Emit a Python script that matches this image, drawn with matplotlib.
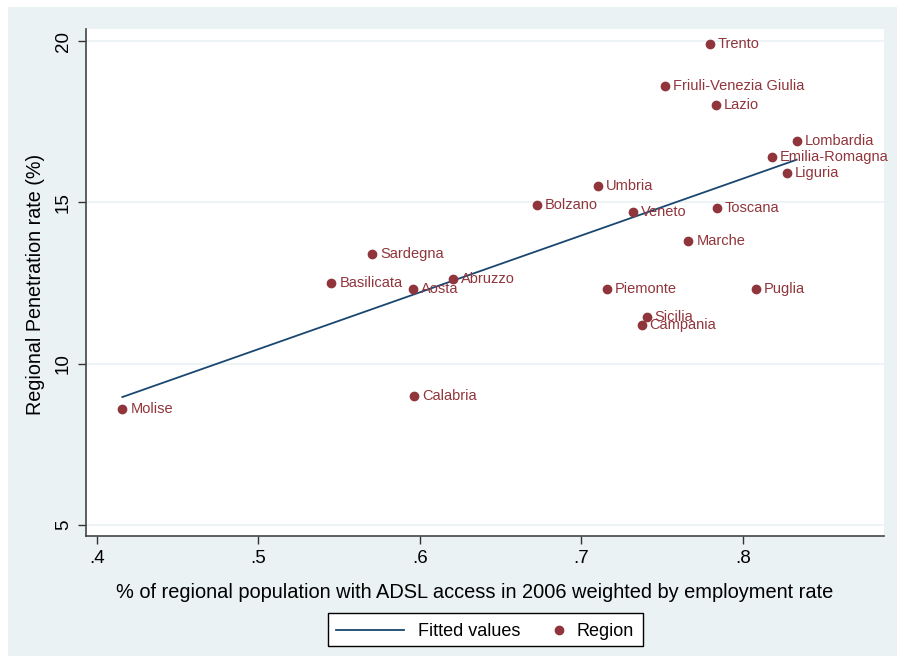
import matplotlib
matplotlib.use("Agg")
import matplotlib.pyplot as plt
import numpy as np
from matplotlib.patches import Rectangle
from matplotlib.lines import Line2D

plt.rcParams['font.family'] = ['Liberation Sans', 'DejaVu Sans']

regions = ["Trento", "Friuli-Venezia Giulia", "Lazio", "Lombardia", "Emilia-Romagna",
           "Liguria", "Umbria", "Veneto", "Toscana", "Bolzano", "Sardegna", "Basilicata",
           "Aosta", "Abruzzo", "Calabria", "Marche", "Piemonte", "Puglia", "Sicilia",
           "Campania", "Molise"]
adsl = [0.7796, 0.7517, 0.7831, 0.8332, 0.8180, 0.8271, 0.7104, 0.7321, 0.7837, 0.6724,
        0.5703, 0.5451, 0.5959, 0.6204, 0.5963, 0.7661, 0.7156, 0.8079, 0.7404, 0.7372,
        0.4157]
penetration = [19.91, 18.61, 18.01, 16.91, 16.41, 15.90, 15.52, 14.71, 14.82, 14.91,
               13.41, 12.51, 12.31, 12.62, 9.01, 13.81, 12.31, 12.31, 11.44, 11.21, 8.61]

xticks = [0.4, 0.5, 0.6, 0.7, 0.8]
xticklabels = [".4", ".5", ".6", ".7", ".8"]
yticks = [5, 10, 15, 20]
legend_labels = ["Fitted values", "Region"]

BG = "#EAF2F3"
NAVY = "#1a476f"
MAROON = "#90353b"

W, H = 897, 656
fig = plt.figure(figsize=(W / 100, H / 100), dpi=100, facecolor="white")
fig.patches.append(Rectangle((8 / W, 0), 1, 1 - 7 / H, transform=fig.transFigure,
                             facecolor=BG, edgecolor="none", zorder=-10))

ax = fig.add_axes([86 / W, 1 - 536 / H, (884 - 86) / W, (536 - 29) / H])
ax.set_facecolor("white")
ax.set_xlim(0.3932, 0.8873)
ax.set_ylim(4.659, 20.372)

x = np.array(adsl)
y = np.array(penetration)
b, a = np.polyfit(x, y, 1)
xs = np.array([x.min(), x.max()])
ax.plot(xs, a + b * xs, color=NAVY, lw=1.3, zorder=2)
ax.plot(x, y, 'o', color=MAROON, ms=6, mec=MAROON, zorder=3)
for name, xi, yi in zip(regions, adsl, penetration):
    ax.annotate(name, (xi, yi), xytext=(8, 0), textcoords="offset pixels",
                va="center", ha="left", fontsize=10.5, color=MAROON, zorder=4)

ax.set_yticks(yticks)
ax.set_yticklabels([str(t) for t in yticks], rotation=90, va="center", fontsize=13.5)
ax.set_xticks(xticks)
ax.set_xticklabels(xticklabels, fontsize=13.5)
ax.tick_params(axis="both", length=6, width=1, color="#333333", pad=4)
ax.grid(axis="y", color=BG, lw=1.2)
ax.set_axisbelow(True)
for s in ["top", "right"]:
    ax.spines[s].set_visible(False)
for s in ["left", "bottom"]:
    ax.spines[s].set_color("#444444")
    ax.spines[s].set_linewidth(1.2)

ax.set_xlabel("% of regional population with ADSL access in 2006 weighted by employment rate",
              fontsize=14.4)
ax.xaxis.set_label_coords((475 - 86) / 798, -(592 - 536) / 507)
ax.xaxis.label.set_va("center")
ax.set_ylabel("Regional Penetration rate (%)", fontsize=14.2)
ax.yaxis.set_label_coords(-(86 - 35) / 798, (536 - 284) / 507)
ax.yaxis.label.set_va("center")

# legend drawn in figure pixel coordinates (from top-left)
def fx(px):
    return px / W

def fy(py):
    return 1 - py / H

fig.patches.append(Rectangle((fx(328), fy(646)), (643 - 328) / W, (646 - 613) / H,
                             transform=fig.transFigure, facecolor="white",
                             edgecolor="black", lw=1.0, zorder=5))
fig.lines.append(Line2D([fx(336), fx(404)], [fy(629.5), fy(629.5)],
                        transform=fig.transFigure, color=NAVY, lw=1.3, zorder=6))
fig.lines.append(Line2D([fx(559)], [fy(629.5)], transform=fig.transFigure,
                        marker='o', ms=6, color=MAROON, ls='none', zorder=6))
fig.text(fx(418), fy(629.5), legend_labels[0], fontsize=13, va="center_baseline",
         ha="left", zorder=7)
fig.text(fx(577), fy(629.5), legend_labels[1], fontsize=13, va="center_baseline",
         ha="left", zorder=7)

fig.savefig("out.png", dpi=100, facecolor=fig.get_facecolor())
